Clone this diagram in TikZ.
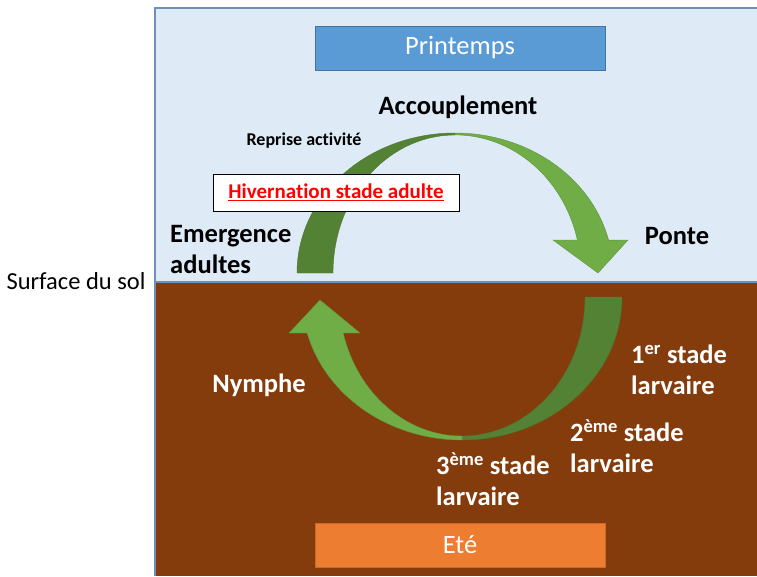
\documentclass[tikz,border=0pt]{standalone}
\usepackage{fontspec}
\setmainfont{Carlito}[Ligatures=NoCommon]
\usepackage{xcolor}
\usetikzlibrary{calc}

\definecolor{ciel}{HTML}{DEEBF7}
\definecolor{sol}{HTML}{843C0C}
\definecolor{cadre}{HTML}{6F8FB4}
\definecolor{bleu}{HTML}{5B9BD5}
\definecolor{ete}{HTML}{ED7D31}
\definecolor{vertfonce}{HTML}{548235}
\definecolor{vertclair}{HTML}{70AD47}

\tikzset{
  saison/.style={minimum width=290pt, minimum height=44pt, text=white, line width=0.8pt,
    font=\fontsize{26.5}{30}\selectfont},
  etiquette/.style={font=\bfseries\fontsize{26.5}{31}\selectfont, inner sep=0pt, align=left},
}

\begin{document}
\begin{tikzpicture}[x=1pt,y=-1pt]
	\useasboundingbox (0,0) rectangle (757,576);
	
	% fonds
	\fill[ciel] (155,8) rectangle (757,282);
	\fill[sol] (155,282) rectangle (757,576);
	\draw[cadre, line width=1.2pt] (757,8) -- (155,8) -- (155,576);
	\draw[cadre, line width=1.2pt] (155,282) -- (757,282);
	
	\node[inner sep=0pt, font=\fontsize{24.5}{28}\selectfont] (surface) at (76,281) {Surface du sol};
	
	\node[saison, fill=bleu, draw=bleu!75!black] (printemps) at (460,48) {Printemps};
	\node[saison, fill=ete, draw=ete!85!black] (ete) at (460,545) {Eté};
	
	% fleche du haut
	\fill[vertfonce, draw=vertfonce!90!black, line width=0.4pt] (297,273) arc[start angle=180, end angle=270, x radius=158, y radius=140]
		-- (455,135) arc[start angle=270, end angle=180, x radius=122, y radius=138] -- cycle;
	\fill[vertclair, draw=vertclair!85!black, line width=0.4pt] (455,133) arc[start angle=270, end angle=346.4, x radius=158, y radius=140]
		-- (628,240) -- (598,273) -- (553,240) -- (577.4,240)
		arc[start angle=346.2, end angle=270, x radius=126, y radius=138] -- cycle;
	
	% fleche du bas
	\fill[vertfonce, draw=vertfonce!90!black, line width=0.4pt] (622,297) arc[start angle=0, end angle=90, x radius=160, y radius=143]
		-- (462,436) arc[start angle=90, end angle=0, x radius=123, y radius=139] -- cycle;
	\fill[vertclair, draw=vertclair!85!black, line width=0.4pt] (462,440) arc[start angle=90, end angle=165.4, x radius=160, y radius=143]
		-- (289,333) -- (320,300) -- (360,333) -- (343.2,333)
		arc[start angle=165, end angle=90, x radius=123, y radius=139] -- cycle;
	
	% etiquettes
	\node[etiquette] (accouplement) at (458,107) {Accouplement};
	\node[inner sep=0pt, font=\bfseries\fontsize{18}{21}\selectfont] (reprise) at (304,141) {Reprise activité};
	\node[draw=black, fill=white, line width=0.8pt, minimum width=246pt, minimum height=37pt,
		text=red, font=\bfseries\fontsize{21}{24}\selectfont] (hivernation) at (336,192.5) {\underline{Hivernation stade adulte}};
	\node[etiquette, anchor=west] (emergence) at (170,249) {Emergence\\adultes};
	\node[etiquette] (ponte) at (677,236) {Ponte};
	
	\node[etiquette, text=white] (nymphe) at (259,385) {Nymphe};
	\node[etiquette, text=white, anchor=west] (stade1) at (631,370) {1\textsuperscript{er} stade\\larvaire};
	\node[etiquette, text=white, anchor=west] (stade2) at (570,446) {2\textsuperscript{ème} stade\\larvaire};
	\node[etiquette, text=white, anchor=west] (stade3) at (436,479) {3\textsuperscript{ème} stade\\larvaire};
\end{tikzpicture}
\end{document}
